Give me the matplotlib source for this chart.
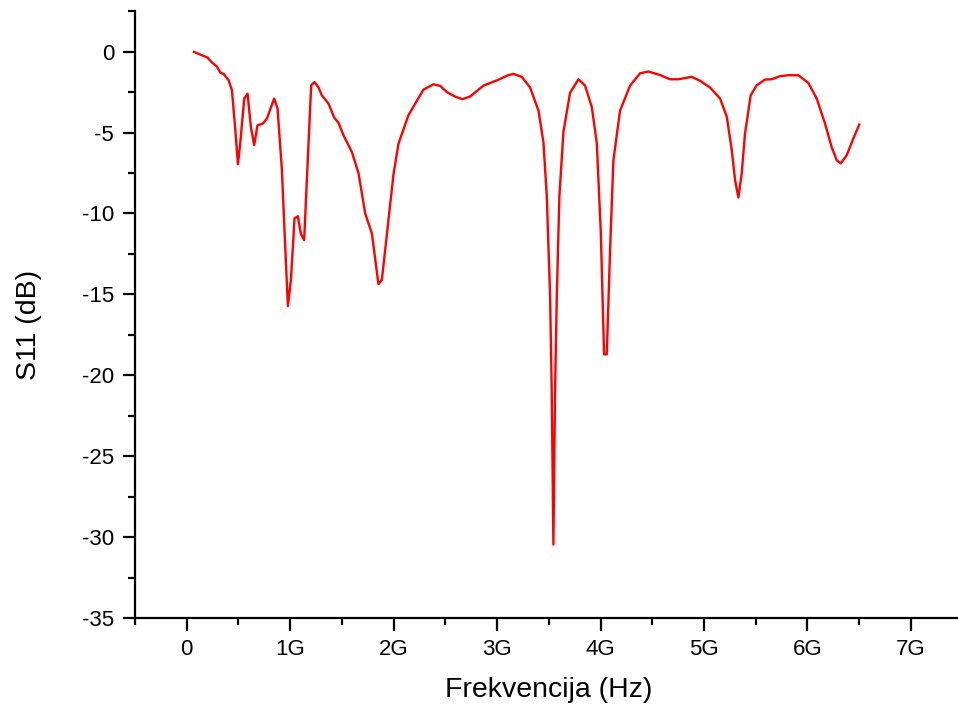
import matplotlib
matplotlib.use("Agg")
import matplotlib.pyplot as plt
from matplotlib.ticker import MultipleLocator, FixedLocator, FixedFormatter

plt.rcParams['font.family'] = ['Liberation Sans', 'DejaVu Sans']
plt.rcParams['axes.unicode_minus'] = False

# Frequency in GHz, S11 in dB
freq = [0.07, 0.2, 0.245, 0.29, 0.325, 0.36, 0.405, 0.437, 0.47, 0.495,
        0.517, 0.556, 0.588, 0.62, 0.652, 0.684, 0.736, 0.775, 0.845, 0.878,
        0.92, 0.952, 0.978, 1.007, 1.042, 1.074, 1.103, 1.135, 1.161, 1.203,
        1.235, 1.274, 1.306, 1.37, 1.425, 1.467, 1.515, 1.596, 1.66, 1.725,
        1.79, 1.853, 1.886, 1.95, 1.998, 2.047, 2.143, 2.288, 2.385, 2.45,
        2.514, 2.6, 2.665, 2.74, 2.868, 2.997, 3.11, 3.158, 3.238, 3.319,
        3.4, 3.448, 3.48, 3.512, 3.528, 3.544, 3.56, 3.577, 3.602, 3.641,
        3.705, 3.786, 3.85, 3.915, 3.963, 4.002, 4.034, 4.06, 4.092, 4.124,
        4.188, 4.285, 4.382, 4.462, 4.575, 4.671, 4.752, 4.88, 4.961, 5.058,
        5.155, 5.22, 5.268, 5.3, 5.332, 5.364, 5.396, 5.451, 5.509, 5.589,
        5.654, 5.734, 5.815, 5.911, 6.008, 6.089, 6.169, 6.233, 6.282, 6.321,
        6.379, 6.443, 6.5]
s11 = [-0.02, -0.37, -0.68, -0.91, -1.3, -1.4, -1.77, -2.39, -4.86, -6.96,
       -5.68, -2.9, -2.6, -4.65, -5.78, -4.55, -4.45, -4.14, -2.9, -3.52,
       -7.33, -12.06, -15.72, -14.1, -10.3, -10.17, -11.24, -11.65, -7.94, -2.08,
       -1.88, -2.22, -2.7, -3.21, -4.07, -4.4, -5.17, -6.2, -7.5, -10.0,
       -11.24, -14.36, -14.1, -10.4, -7.6, -5.68, -3.93, -2.35, -2.02, -2.12,
       -2.5, -2.8, -2.94, -2.77, -2.1, -1.78, -1.45, -1.38, -1.56, -2.22,
       -3.65, -5.62, -8.92, -15.07, -21.0, -30.45, -21.0, -15.07, -8.92, -4.96,
       -2.55, -1.71, -2.1, -3.43, -5.62, -11.12, -18.7, -18.7, -12.2, -6.72,
       -3.65, -2.1, -1.34, -1.23, -1.45, -1.71, -1.71, -1.56, -1.8, -2.22,
       -2.9, -4.03, -6.09, -7.94, -9.01, -7.53, -5.06, -2.7, -2.08, -1.73,
       -1.71, -1.52, -1.46, -1.46, -1.94, -2.9, -4.44, -5.89, -6.71, -6.91,
       -6.4, -5.37, -4.51]

xtick_pos = [0, 1, 2, 3, 4, 5, 6, 7]
xtick_labels = ['0', '1G', '2G', '3G', '4G', '5G', '6G', '7G']

fig = plt.figure(figsize=(9.58, 7.16), dpi=100)
ax = fig.add_axes([0.1409, 0.1365, 0.864, 0.848])

ax.plot(freq, s11, color='red', linewidth=1.7)

ax.set_xlim(-0.5, 7.5)
ax.set_ylim(-35, 2.5)

ax.xaxis.set_major_locator(FixedLocator(xtick_pos))
ax.xaxis.set_major_formatter(FixedFormatter(xtick_labels))
ax.xaxis.set_minor_locator(MultipleLocator(0.5))
ax.yaxis.set_major_locator(MultipleLocator(5))
ax.yaxis.set_minor_locator(MultipleLocator(2.5))

for s in ['top', 'right']:
    ax.spines[s].set_visible(False)
for s in ['left', 'bottom']:
    ax.spines[s].set_linewidth(1.6)

ax.tick_params(which='major', direction='out', length=9, width=1.6,
               labelsize=16, pad=6)
ax.tick_params(which='minor', direction='out', length=5, width=1.6)

ax.set_xlabel('Frekvencija (Hz)', fontsize=20.5, labelpad=12)
ax.set_ylabel('S11 (dB)', fontsize=20.5)
ax.yaxis.set_label_coords(-0.112, 0.483)

fig.savefig('out.png', dpi=100)
